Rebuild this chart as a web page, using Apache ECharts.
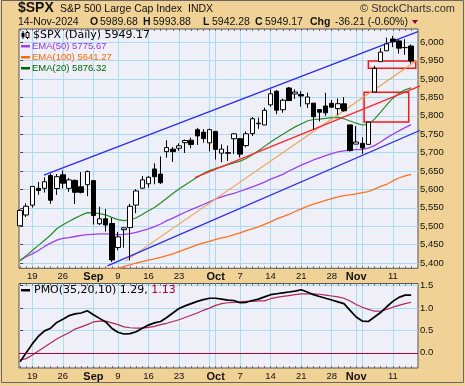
<!DOCTYPE html>
<html><head><meta charset="utf-8">
<script src="https://cdn.jsdelivr.net/npm/echarts@6/dist/echarts.min.js"></script>
<style>html,body{margin:0;padding:0;background:#F0D296;}#c{width:465px;height:386px;}</style>
</head><body><div id="c"></div>
<script>
// ---- data ----
const dates = ['2024-08-15','2024-08-16','2024-08-19','2024-08-20','2024-08-21','2024-08-22','2024-08-23','2024-08-26','2024-08-27','2024-08-28','2024-08-29','2024-08-30','2024-09-03','2024-09-04','2024-09-05','2024-09-06','2024-09-09','2024-09-10','2024-09-11','2024-09-12','2024-09-13','2024-09-16','2024-09-17','2024-09-18','2024-09-19','2024-09-20','2024-09-23','2024-09-24','2024-09-25','2024-09-26','2024-09-27','2024-09-30','2024-10-01','2024-10-02','2024-10-03','2024-10-04','2024-10-07','2024-10-08','2024-10-09','2024-10-10','2024-10-11','2024-10-14','2024-10-15','2024-10-16','2024-10-17','2024-10-18','2024-10-21','2024-10-22','2024-10-23','2024-10-24','2024-10-25','2024-10-28','2024-10-29','2024-10-30','2024-10-31','2024-11-01','2024-11-04','2024-11-05','2024-11-06','2024-11-07','2024-11-08','2024-11-11','2024-11-12','2024-11-13','2024-11-14'];
const opens  = [5501.13,5530.50,5557.23,5602.88,5603.09,5637.77,5602.47,5639.66,5602.89,5624.51,5607.30,5612.74,5623.89,5506.68,5520.08,5507.33,5442.07,5490.51,5496.42,5557.48,5603.34,5615.21,5655.51,5641.68,5702.63,5709.46,5711.90,5727.06,5733.65,5762.22,5755.36,5726.52,5757.73,5698.56,5698.19,5737.80,5737.88,5719.14,5751.80,5778.36,5775.09,5829.81,5866.74,5816.58,5875.62,5859.43,5857.82,5832.70,5834.50,5816.80,5826.75,5833.93,5819.68,5832.65,5775.34,5723.22,5725.15,5722.43,5864.89,5947.21,5976.76,6008.86,6003.60,5985.75,5989.68];
const highs  = [5546.23,5561.98,5608.30,5620.51,5632.68,5643.22,5641.82,5651.62,5631.18,5627.03,5646.95,5651.37,5623.89,5552.99,5546.30,5522.47,5484.20,5497.91,5560.41,5600.71,5636.27,5636.05,5670.81,5689.75,5733.57,5715.14,5725.36,5735.32,5741.03,5767.37,5763.78,5765.14,5757.73,5722.42,5718.78,5753.35,5739.91,5757.60,5796.80,5795.03,5822.13,5871.41,5870.36,5846.52,5878.46,5872.17,5866.92,5863.04,5834.85,5817.80,5862.82,5842.92,5847.19,5850.94,5775.34,5772.28,5741.43,5783.44,5936.14,5983.84,6012.45,6017.31,6007.56,6008.19,5993.88];
const lows   = [5501.13,5525.17,5550.74,5585.50,5591.57,5560.95,5585.16,5602.34,5593.48,5560.20,5589.14,5581.79,5504.33,5503.66,5485.70,5402.62,5434.49,5441.72,5406.96,5535.50,5601.65,5604.53,5614.05,5615.08,5686.42,5674.49,5704.94,5698.99,5712.06,5721.01,5727.34,5703.53,5681.28,5674.00,5677.37,5696.39,5686.85,5714.56,5745.02,5764.76,5775.09,5824.80,5804.48,5808.34,5840.25,5846.11,5824.83,5821.17,5762.41,5784.92,5799.98,5823.08,5802.17,5811.28,5702.86,5723.22,5696.51,5722.10,5864.89,5947.21,5976.76,5986.69,5969.20,5965.91,5942.28];
const closes = [5543.22,5554.25,5608.25,5597.12,5620.85,5570.64,5634.61,5616.84,5625.80,5592.18,5591.96,5648.40,5528.93,5520.07,5503.41,5408.42,5471.05,5495.52,5554.13,5595.76,5626.02,5633.09,5634.58,5618.26,5713.64,5702.55,5718.57,5732.93,5722.26,5745.37,5738.17,5762.48,5708.75,5709.54,5699.94,5751.07,5695.94,5751.13,5792.04,5780.05,5815.03,5859.85,5815.26,5842.47,5841.47,5864.67,5853.98,5851.20,5797.42,5809.86,5808.12,5823.52,5832.92,5813.67,5705.45,5728.80,5712.69,5782.76,5929.04,5973.10,5995.54,6001.35,5983.99,5985.38,5949.17];
const ema20  = [5406,5420,5434,5448,5462,5476,5493,5504,5513,5522,5530,5537,5536,5534,5531,5524,5518,5515,5517,5523,5532,5542,5551,5563,5576,5589,5601,5612,5623,5633,5643,5651,5657,5662,5667,5672,5677,5684,5694,5705,5717,5729,5740,5750,5760,5770,5778,5786,5790,5791,5793,5795,5796,5792,5786,5780,5775,5777,5791,5810,5830,5848,5861,5871,5876];
const ema50  = [5408,5417,5425,5434,5445,5454,5462,5467,5469,5472,5475,5477,5478,5479,5479,5478,5477,5478,5480,5483,5488,5493,5499,5506,5515,5522,5530,5538,5545,5552,5559,5566,5574,5580,5585,5589,5595,5601,5607,5613,5620,5628,5634,5641,5650,5658,5666,5673,5680,5686,5692,5697,5702,5705,5707,5708,5709,5712,5719,5729,5740,5750,5759,5768,5776];
const ema100 = [5330,5334,5338,5343,5348,5352,5357,5361,5365,5369,5373,5377,5379,5381,5383,5383,5385,5391,5395,5400,5404,5408,5411,5415,5420,5425,5431,5437,5443,5449,5455,5459,5464,5468,5472,5477,5482,5488,5493,5498,5505,5512,5520,5526,5532,5540,5547,5554,5560,5565,5570,5575,5580,5583,5585,5588,5591,5594,5601,5608,5614,5623,5631,5637,5641];
const pmo    = [-0.20,0.00,0.20,0.37,0.49,0.55,0.68,0.75,0.83,0.87,0.89,0.94,0.85,0.77,0.69,0.55,0.46,0.42,0.43,0.47,0.55,0.62,0.67,0.70,0.79,0.89,0.99,1.05,1.10,1.15,1.19,1.22,1.22,1.20,1.18,1.17,1.12,1.13,1.17,1.20,1.25,1.30,1.32,1.34,1.36,1.38,1.41,1.36,1.30,1.26,1.22,1.18,1.14,1.10,0.95,0.80,0.71,0.70,0.80,0.90,1.03,1.15,1.24,1.29,1.29];
const pmoSignal = [-0.16,-0.13,-0.05,0.04,0.13,0.22,0.31,0.38,0.45,0.53,0.58,0.63,0.69,0.71,0.71,0.67,0.63,0.58,0.56,0.55,0.55,0.57,0.59,0.63,0.66,0.70,0.74,0.79,0.84,0.89,0.95,1.00,1.06,1.10,1.12,1.13,1.14,1.15,1.15,1.16,1.16,1.21,1.24,1.26,1.28,1.30,1.32,1.32,1.32,1.31,1.29,1.27,1.25,1.22,1.16,1.08,1.02,0.97,0.93,0.93,0.97,1.02,1.06,1.10,1.13];
const priceTicks = [5400,5450,5500,5550,5600,5650,5700,5750,5800,5850,5900,5950,6000];
const pmoTicks = [0,0.5,1.0,1.5];
const xLabelIdx  = [2,7,12,16,21,26,32,36,41,46,51,55,61];
const xLabelText = ['19','26','Sep','9','16','23','Oct','7','14','21','28','Nov','11'];
const monthLabels = ['Sep','Oct','Nov'];
const xGridIdx = [2,7,12,16,21,26,31,32,36,41,46,51,55,56,61];
// trendline annotations [dayIndex, price]
const upperChannel = [[3.9,5639],[65.1,6029]];
const lowerChannel = [[14.3,5392],[68.3,5781]];
const orangeTrend  = [[17.2,5405],[66.8,5972]];
const redTrend     = [[28.6,5632],[67.2,5893]];
const gapBoxes = [[[57.0,5949],[64.75,5929]],[[56.3,5864],[63.6,5783]]];
const legendVals = {close:'5949.17', ema50:'5775.67', ema100:'5641.27', ema20:'5876.32', pmo:'1.29', sig:'1.13'};

// ---- chart ----
const X_MIN = -0.18, X_MAX = 65.12;
const dayIdx = dates.map((d,i)=>i);
const gridBlue = '#A9DCF0';
const hdr = 'Liberation Sans, Arial, sans-serif';
const lg = 'DejaVu Sans, Verdana, sans-serif';
const lab = {fontFamily:hdr, fontSize:9.5, color:'#111'};
function xLabelFmt(v){
  const k = xLabelIdx.indexOf(Math.round(v));
  if (k < 0) return '';
  const t = xLabelText[k];
  return monthLabels.indexOf(t) >= 0 ? '{b|' + t + '}' : t;
}
function mainX(grid){
  return {type:'value', gridIndex:grid, min:X_MIN, max:X_MAX, position:'bottom',
    axisLine:{show:false}, axisTick:{show:false, customValues:xGridIdx},
    splitLine:{show:true, lineStyle:{color:gridBlue, width:1}},
    axisLabel:Object.assign({customValues:xLabelIdx, formatter:xLabelFmt, margin:3,
      rich:{b:{fontFamily:hdr, fontWeight:'bold', fontSize:11, color:'#111'}}}, lab)};
}
function tickX(grid, pos){
  return {type:'value', gridIndex:grid, min:X_MIN, max:X_MAX, position:pos, offset:0,
    axisLine:{show:false}, axisLabel:{show:false}, splitLine:{show:false},
    axisTick:{show:true, inside:true, length:2, customValues:dayIdx, lineStyle:{color:'#666', width:1}}};
}
const chart = echarts.init(document.getElementById('c'), null, {renderer:'canvas'});
const txt = (x,y,text,font,fill,align) => ({type:'text', x:x, y:y, silent:true, z:50,
  style:{text:text, font:font, fill:fill||'#111', textAlign:align||'left', textVerticalAlign:'middle'}});
const last = closes.length-1;
const f2 = v => v.toFixed(2);
const chg = closes[last]-closes[last-1];

chart.setOption({
  animation:false,
  backgroundColor:'#F0D296',
  grid:[
    {left:19, top:29, width:399, height:239.3, show:true, backgroundColor:'#EFEFF7', borderColor:'#555', borderWidth:1},
    {left:19, top:283.5, width:399, height:84.5, show:true, backgroundColor:'#EFEFF7', borderColor:'#555', borderWidth:1}
  ],
  xAxis:[mainX(0), tickX(0,'top'), mainX(1), tickX(1,'top'), tickX(0,'bottom'), tickX(1,'bottom')],
  yAxis:[
    {type:'value', gridIndex:0, position:'right', min:5385.6, max:6036, scale:true,
      axisLine:{show:false}, axisTick:{show:true, length:3, customValues:priceTicks, lineStyle:{color:'#444'}},
      splitLine:{show:true, lineStyle:{color:gridBlue}},
      axisLabel:Object.assign({customValues:priceTicks, margin:2}, lab)},
    {type:'value', gridIndex:1, position:'right', min:-0.34, max:1.55,
      axisLine:{show:false}, axisTick:{show:true, length:3, customValues:pmoTicks, lineStyle:{color:'#444'}},
      splitLine:{show:true, lineStyle:{color:gridBlue}},
      axisLabel:Object.assign({customValues:pmoTicks, margin:2, formatter:v=>v.toFixed(1)}, lab)}
  ],
  series:[
    {type:'line', xAxisIndex:0, yAxisIndex:0, data:ema100.map((v,i)=>[i,v]), showSymbol:false, lineStyle:{color:'#FF7020', width:1.3}, z:3},
    {type:'line', xAxisIndex:0, yAxisIndex:0, data:ema50.map((v,i)=>[i,v]), showSymbol:false, lineStyle:{color:'#9B40F0', width:1.3}, z:3},
    {type:'line', xAxisIndex:0, yAxisIndex:0, data:ema20.map((v,i)=>[i,v]), showSymbol:false, lineStyle:{color:'#2A8A2A', width:1.2}, z:3},
    {type:'line', xAxisIndex:0, yAxisIndex:0, data:orangeTrend, showSymbol:false, clip:false, lineStyle:{color:'#F0A050', width:1.1}, z:4},
    {type:'line', xAxisIndex:0, yAxisIndex:0, data:upperChannel, showSymbol:false, clip:false, lineStyle:{color:'#2B2BF0', width:1.3}, z:4},
    {type:'line', xAxisIndex:0, yAxisIndex:0, data:lowerChannel, showSymbol:false, clip:false, lineStyle:{color:'#2B2BF0', width:1.3}, z:4},
    {type:'line', xAxisIndex:0, yAxisIndex:0, data:redTrend, showSymbol:false, clip:false, lineStyle:{color:'#FF2A2A', width:1.3}, z:4,
      markArea:{silent:true, itemStyle:{color:'rgba(0,0,0,0)', borderColor:'#F01818', borderWidth:1.5},
        data:gapBoxes.map(b=>[{coord:b[0]},{coord:b[1]}])}},
    {type:'candlestick', xAxisIndex:0, yAxisIndex:0, barWidth:5, z:5,
      data:dates.map((d,i)=>[i, opens[i], closes[i], lows[i], highs[i]]),
      encode:{x:0, y:[1,2,3,4]},
      itemStyle:{color:'#FFFFFF', color0:'#000000', borderColor:'#000000', borderColor0:'#000000', borderWidth:1}},
    {type:'line', xAxisIndex:2, yAxisIndex:1, data:pmoSignal.map((v,i)=>[i,v]), showSymbol:false, lineStyle:{color:'#B0285A', width:1.2}, z:3,
      markLine:{silent:true, symbol:'none', label:{show:false}, lineStyle:{color:'#B0003A', type:'solid', width:1}, data:[{yAxis:0}]}},
    {type:'line', xAxisIndex:2, yAxisIndex:1, data:pmo.map((v,i)=>[i,v]), showSymbol:false, lineStyle:{color:'#000', width:1.7}, z:4}
  ],
  graphic:[
    {type:'rect', shape:{x:1.5, y:0.5, width:462, height:382}, style:{fill:null, stroke:'#666', lineWidth:1}, silent:true, z:100},
    txt(18, 8.5, '$SPX', 'bold 14px '+hdr, '#111'),
    txt(60, 9, 'S&P 500 Large Cap Index', '10.5px '+hdr, '#111'),
    txt(188, 9, 'INDX', '10.5px '+hdr, '#111'),
    txt(455, 9, '\u00A9 StockCharts.com', '11px '+hdr, '#333', 'right'),
    txt(18, 22, '14-Nov-2024', '10.5px '+hdr),
    txt(90, 22, 'O', 'bold 10.5px '+hdr), txt(100, 22, f2(opens[last]), '10.5px '+hdr),
    txt(143, 22, 'H', 'bold 10.5px '+hdr), txt(153, 22, f2(highs[last]), '10.5px '+hdr),
    txt(203, 22, 'L', 'bold 10.5px '+hdr), txt(212, 22, f2(lows[last]), '10.5px '+hdr),
    txt(255, 22, 'C', 'bold 10.5px '+hdr), txt(265, 22, f2(closes[last]), '10.5px '+hdr),
    txt(310, 22, 'Chg', 'bold 10.5px '+hdr),
    txt(335, 22, f2(chg) + ' (' + (chg/closes[last-1]*100).toFixed(2) + '%)', '10.5px '+hdr),
    {type:'polygon', shape:{points:[[412,20],[418,20],[415,24]]}, style:{fill:'#990033'}, silent:true},
    // legend icons
    {type:'line', shape:{x1:23, y1:31, x2:23, y2:39}, style:{stroke:'#000', lineWidth:1}, silent:true, z:50},
    {type:'rect', shape:{x:21.5, y:33, width:3, height:4}, style:{fill:'#000'}, silent:true, z:50},
    {type:'line', shape:{x1:27.5, y1:31, x2:27.5, y2:39}, style:{stroke:'#000', lineWidth:1}, silent:true, z:50},
    {type:'rect', shape:{x:26, y:32.5, width:3, height:5}, style:{fill:'#fff', stroke:'#000', lineWidth:1}, silent:true, z:50},
    txt(33, 35, '$SPX (Daily) ' + legendVals.close, '11px '+lg, '#000'),
    {type:'rect', shape:{x:21, y:45, width:9, height:2.5}, style:{fill:'#9B40F0'}, silent:true, z:50},
    txt(32, 46.5, 'EMA(50) ' + legendVals.ema50, '9.5px '+hdr, '#9933DD'),
    {type:'rect', shape:{x:21, y:56, width:9, height:2.5}, style:{fill:'#FF6600'}, silent:true, z:50},
    txt(32, 57.5, 'EMA(100) ' + legendVals.ema100, '9.5px '+hdr, '#FF6600'),
    {type:'rect', shape:{x:21, y:67, width:9, height:2.5}, style:{fill:'#006600'}, silent:true, z:50},
    txt(32, 68.5, 'EMA(20) ' + legendVals.ema20, '9.5px '+hdr, '#006600'),
    {type:'rect', shape:{x:21, y:289, width:9, height:2.5}, style:{fill:'#000'}, silent:true, z:50},
    {type:'text', x:34, y:290.5, silent:true, z:50, style:{text:'PMO(35,20,10) ' + legendVals.pmo + ', {r|' + legendVals.sig + '}',
      font:'11px '+lg, fill:'#000', textVerticalAlign:'middle', rich:{r:{fill:'#AA0033', font:'11px '+lg}}}}
  ]
});
</script></body></html>
